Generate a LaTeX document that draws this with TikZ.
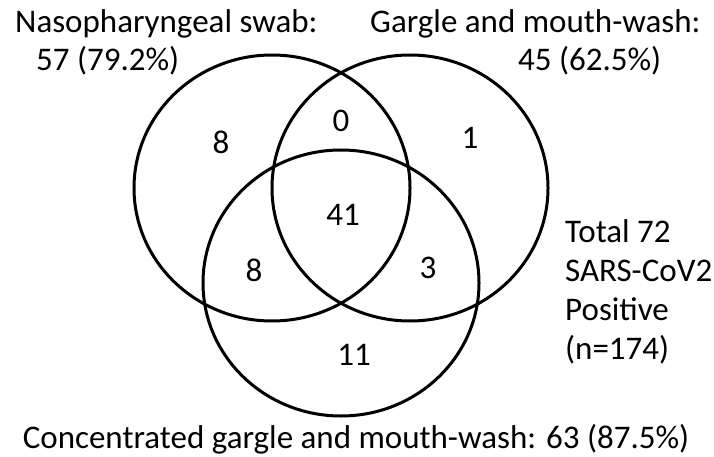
\documentclass[tikz,border=0pt]{standalone}
\usepackage{fontspec}
\setmainfont{Carlito}
\usepackage{tikz}
\usetikzlibrary{positioning,shapes.geometric}
\tikzstyle{setoval} = [ellipse, draw=black, line width=3pt, minimum width=276pt, minimum height=266pt, inner sep=0pt]
\tikzstyle{headtext} = [inner sep=0pt, font=\fontsize{33}{39}\selectfont]
\tikzstyle{count} = [inner sep=0pt, font=\fontsize{33}{39}\selectfont]

\begin{document}
\begin{tikzpicture}[x=1pt, y=-1pt]
\useasboundingbox (0,0) rectangle (714,457);
% the three sets
\node[setoval] (naso) at (272,188) {};
\node[setoval] (gargle) at (410,188) {};
\node[setoval] (conc) at (341,283) {};

% set titles
\node[headtext, anchor=base west] (nasotitle) at (15,33) {Nasopharyngeal swab:};
\node[headtext, anchor=base west] (nasoval) at (36,71) {57 (79.2\%)};
\node[headtext, anchor=base west] (gargletitle) at (370,33) {Gargle and mouth-wash:};
\node[headtext, anchor=base west] (garglevalue) at (518,71) {45 (62.5\%)};
\node[headtext, anchor=base] (conctitle) at (356,448) {Concentrated gargle and mouth-wash: 63 (87.5\%)};
\node[headtext, anchor=base west] (total1) at (565,242) {Total 72};
\node[headtext, anchor=base west] (total2) at (565,281) {SARS-CoV2};
\node[headtext, anchor=base west] (total3) at (565,320) {Positive};
\node[headtext, anchor=base west] (total4) at (565,359) {(n=174)};

% region counts
\node[count] (onlynaso) at (221,142) {8};
\node[count] (nasogargle) at (341,121) {0};
\node[count] (onlygargle) at (470,138) {1};
\node[count] (allthree) at (343,215) {41};
\node[count] (nasoconc) at (254,270) {8};
\node[count] (garglecons) at (428,268) {3};
\node[count] (onlyconc) at (354,355) {11};
\end{tikzpicture}
\end{document}
